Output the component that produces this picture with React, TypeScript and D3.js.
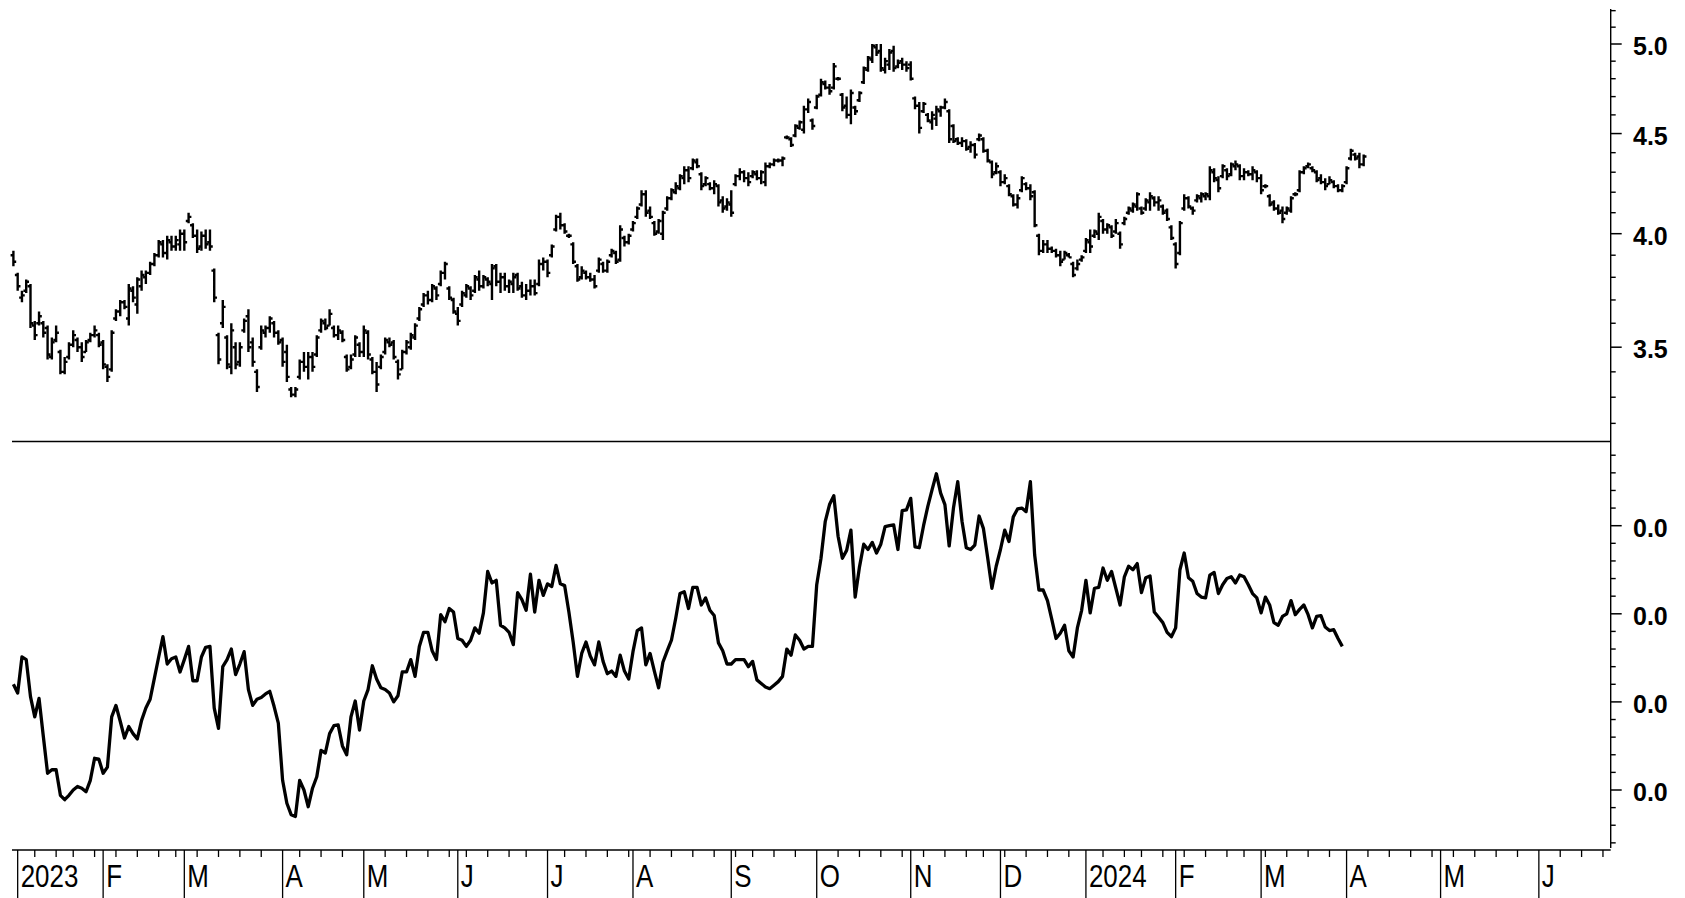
import React from 'react'
import * as d3 from 'd3'

// daily bars, Dec 30 2022 .. Apr 5 2024 (US trading days)
const firstDay = new Date(2022, 11, 30)
const axisEnd = new Date(2024, 5, 29)
const holidays = [
  '2023-01-02', '2023-01-16', '2023-02-20', '2023-04-07', '2023-05-29', '2023-06-19',
  '2023-07-04', '2023-09-04', '2023-11-23', '2023-12-25', '2024-01-01', '2024-01-15',
  '2024-02-19', '2024-03-29',
]

const opens = [
  3.90, 3.81, 3.71, 3.74, 3.76, 3.59, 3.60, 3.60, 3.58, 3.46,
  3.53, 3.48, 3.40, 3.46, 3.51, 3.53, 3.50, 3.48, 3.53, 3.55,
  3.55, 3.52, 3.42, 3.41, 3.62, 3.65, 3.69, 3.62, 3.74, 3.68,
  3.76, 3.80, 3.82, 3.86, 3.90, 3.95, 3.91, 3.96, 3.94, 3.95,
  4.00, 4.06, 4.04, 3.99, 3.94, 3.99, 3.96, 3.83, 3.55, 3.60,
  3.54, 3.42, 3.50, 3.44, 3.57, 3.63, 3.52, 3.40, 3.50, 3.56,
  3.58, 3.60, 3.56, 3.53, 3.48, 3.33, 3.31, 3.38, 3.44, 3.42,
  3.46, 3.47, 3.57, 3.60, 3.59, 3.58, 3.55, 3.56, 3.46, 3.42,
  3.47, 3.51, 3.48, 3.56, 3.45, 3.40, 3.42, 3.48, 3.52, 3.52,
  3.44, 3.41, 3.48, 3.50, 3.54, 3.62, 3.68, 3.72, 3.70, 3.75,
  3.77, 3.82, 3.75, 3.70, 3.64, 3.68, 3.72, 3.75, 3.74, 3.79,
  3.76, 3.79, 3.77, 3.85, 3.78, 3.80, 3.76, 3.77, 3.81, 3.76,
  3.72, 3.74, 3.76, 3.77, 3.86, 3.87, 3.90, 4.02, 4.08, 4.04,
  3.99, 3.95, 3.85, 3.80, 3.82, 3.80, 3.79, 3.83, 3.86, 3.83,
  3.90, 3.91, 3.88, 3.98, 3.96, 4.02, 4.08, 4.14, 4.19, 4.11,
  4.05, 4.01, 4.00, 4.12, 4.17, 4.20, 4.22, 4.27, 4.31, 4.32,
  4.35, 4.29, 4.24, 4.24, 4.22, 4.23, 4.16, 4.13, 4.14, 4.24,
  4.28, 4.30, 4.27, 4.28, 4.29, 4.27, 4.25, 4.33, 4.34, 4.36,
  4.36, 4.48, 4.47, 4.49, 4.53, 4.52, 4.63, 4.57, 4.64, 4.71,
  4.77, 4.75, 4.75, 4.80, 4.71, 4.65, 4.60, 4.64, 4.68, 4.78,
  4.85, 4.91, 4.98, 4.96, 4.85, 4.88, 4.96, 4.87, 4.90, 4.88,
  4.88, 4.69, 4.65, 4.62, 4.60, 4.56, 4.58, 4.62, 4.64, 4.62,
  4.54, 4.47, 4.45, 4.46, 4.43, 4.44, 4.47, 4.47, 4.41, 4.35,
  4.30, 4.30, 4.25, 4.23, 4.18, 4.14, 4.21, 4.24, 4.22, 4.20,
  3.99, 3.92, 3.95, 3.93, 3.92, 3.90, 3.88, 3.90, 3.86, 3.84,
  3.88, 3.92, 3.96, 3.99, 4.00, 4.06, 4.02, 4.03, 4.01, 4.00,
  4.05, 4.10, 4.11, 4.13, 4.12, 4.12, 4.15, 4.17, 4.15, 4.13,
  4.11, 4.03, 3.95, 3.91, 4.12, 4.17, 4.12, 4.16, 4.17, 4.18,
  4.18, 4.30, 4.26, 4.28, 4.31, 4.29, 4.33, 4.33, 4.28, 4.30,
  4.29, 4.30, 4.27, 4.23, 4.18, 4.15, 4.12, 4.11, 4.10, 4.11,
  4.19, 4.21, 4.30, 4.33, 4.32, 4.30, 4.27, 4.25, 4.24, 4.25,
  4.23, 4.21, 4.25, 4.37, 4.39, 4.38, 4.34,
]

const highs = [
  3.92, 3.82, 3.74, 3.79, 3.77, 3.61, 3.65, 3.61, 3.59, 3.54,
  3.59, 3.49, 3.46, 3.52, 3.57, 3.54, 3.52, 3.53, 3.56, 3.59,
  3.56, 3.53, 3.43, 3.57, 3.66, 3.70, 3.70, 3.77, 3.76, 3.80,
  3.83, 3.83, 3.87, 3.91, 3.97, 3.97, 3.99, 3.99, 3.99, 4.02,
  4.02, 4.10, 4.05, 4.02, 4.01, 4.02, 4.02, 3.84, 3.56, 3.70,
  3.55, 3.60, 3.52, 3.52, 3.62, 3.66, 3.54, 3.41, 3.59, 3.59,
  3.63, 3.61, 3.57, 3.54, 3.51, 3.34, 3.34, 3.45, 3.48, 3.48,
  3.48, 3.55, 3.62, 3.62, 3.66, 3.59, 3.59, 3.57, 3.47, 3.47,
  3.55, 3.52, 3.59, 3.57, 3.46, 3.44, 3.47, 3.54, 3.54, 3.53,
  3.45, 3.49, 3.53, 3.56, 3.60, 3.67, 3.73, 3.74, 3.77, 3.76,
  3.83, 3.87, 3.76, 3.71, 3.67, 3.74, 3.77, 3.76, 3.81, 3.83,
  3.81, 3.80, 3.86, 3.86, 3.82, 3.82, 3.79, 3.82, 3.82, 3.78,
  3.77, 3.79, 3.79, 3.88, 3.89, 3.88, 3.95, 4.09, 4.10, 4.05,
  4.00, 3.96, 3.86, 3.85, 3.83, 3.82, 3.81, 3.89, 3.87, 3.88,
  3.93, 3.92, 4.04, 3.99, 4.00, 4.06, 4.13, 4.21, 4.21, 4.13,
  4.06, 4.07, 4.11, 4.18, 4.22, 4.25, 4.29, 4.33, 4.33, 4.37,
  4.37, 4.30, 4.28, 4.25, 4.26, 4.24, 4.18, 4.17, 4.21, 4.29,
  4.32, 4.31, 4.30, 4.31, 4.31, 4.31, 4.35, 4.35, 4.37, 4.37,
  4.38, 4.49, 4.48, 4.55, 4.57, 4.65, 4.69, 4.58, 4.71, 4.80,
  4.79, 4.77, 4.89, 4.81, 4.72, 4.70, 4.74, 4.65, 4.73, 4.87,
  4.93, 5.00, 5.00, 5.00, 4.92, 4.97, 4.99, 4.91, 4.92, 4.90,
  4.90, 4.70, 4.67, 4.67, 4.61, 4.62, 4.65, 4.65, 4.69, 4.63,
  4.55, 4.48, 4.48, 4.47, 4.46, 4.45, 4.50, 4.48, 4.42, 4.36,
  4.35, 4.31, 4.29, 4.24, 4.19, 4.19, 4.28, 4.25, 4.24, 4.21,
  4.00, 3.97, 3.97, 3.94, 3.93, 3.92, 3.92, 3.91, 3.87, 3.88,
  3.90, 3.98, 4.02, 4.02, 4.10, 4.07, 4.05, 4.04, 4.07, 4.01,
  4.08, 4.13, 4.15, 4.20, 4.13, 4.17, 4.20, 4.18, 4.18, 4.14,
  4.12, 4.04, 3.96, 4.06, 4.19, 4.18, 4.13, 4.19, 4.20, 4.20,
  4.33, 4.32, 4.28, 4.34, 4.32, 4.35, 4.36, 4.34, 4.32, 4.31,
  4.33, 4.31, 4.29, 4.24, 4.19, 4.16, 4.14, 4.13, 4.13, 4.18,
  4.20, 4.31, 4.33, 4.35, 4.33, 4.31, 4.29, 4.27, 4.28, 4.26,
  4.24, 4.24, 4.33, 4.42, 4.40, 4.40, 4.39,
]

const lows = [
  3.85, 3.74, 3.69, 3.73, 3.58, 3.53, 3.59, 3.54, 3.45, 3.45,
  3.52, 3.39, 3.39, 3.45, 3.50, 3.48, 3.44, 3.48, 3.52, 3.54,
  3.50, 3.41, 3.36, 3.40, 3.61, 3.63, 3.66, 3.59, 3.69, 3.64,
  3.74, 3.77, 3.81, 3.85, 3.89, 3.89, 3.88, 3.92, 3.92, 3.92,
  3.92, 4.05, 3.98, 3.91, 3.92, 3.93, 3.92, 3.69, 3.43, 3.58,
  3.41, 3.39, 3.41, 3.42, 3.56, 3.48, 3.42, 3.32, 3.49, 3.54,
  3.56, 3.54, 3.51, 3.42, 3.36, 3.30, 3.30, 3.37, 3.40, 3.37,
  3.40, 3.46, 3.56, 3.57, 3.59, 3.54, 3.53, 3.52, 3.40, 3.41,
  3.46, 3.46, 3.46, 3.45, 3.39, 3.32, 3.41, 3.47, 3.50, 3.45,
  3.37, 3.41, 3.47, 3.49, 3.53, 3.61, 3.67, 3.68, 3.69, 3.70,
  3.76, 3.79, 3.70, 3.64, 3.59, 3.67, 3.71, 3.70, 3.73, 3.74,
  3.75, 3.76, 3.70, 3.76, 3.73, 3.74, 3.73, 3.73, 3.74, 3.71,
  3.70, 3.72, 3.72, 3.76, 3.83, 3.80, 3.89, 4.01, 4.02, 4.00,
  3.98, 3.86, 3.78, 3.79, 3.79, 3.78, 3.75, 3.82, 3.82, 3.82,
  3.89, 3.86, 3.87, 3.94, 3.95, 4.01, 4.07, 4.13, 4.08, 4.07,
  3.99, 4.00, 3.97, 4.11, 4.16, 4.19, 4.21, 4.24, 4.25, 4.31,
  4.32, 4.21, 4.23, 4.21, 4.19, 4.13, 4.10, 4.11, 4.08, 4.23,
  4.26, 4.25, 4.23, 4.27, 4.26, 4.24, 4.23, 4.32, 4.33, 4.35,
  4.33, 4.47, 4.43, 4.48, 4.52, 4.50, 4.61, 4.52, 4.63, 4.70,
  4.74, 4.71, 4.74, 4.79, 4.62, 4.58, 4.55, 4.60, 4.67, 4.77,
  4.84, 4.89, 4.93, 4.84, 4.83, 4.85, 4.84, 4.86, 4.85, 4.84,
  4.79, 4.63, 4.50, 4.61, 4.56, 4.52, 4.54, 4.59, 4.63, 4.45,
  4.45, 4.44, 4.43, 4.41, 4.40, 4.37, 4.46, 4.40, 4.35, 4.27,
  4.29, 4.23, 4.24, 4.18, 4.13, 4.12, 4.20, 4.21, 4.16, 4.03,
  3.90, 3.91, 3.91, 3.91, 3.89, 3.85, 3.88, 3.89, 3.80, 3.83,
  3.87, 3.91, 3.91, 3.98, 3.97, 4.00, 4.00, 3.98, 4.00, 3.93,
  4.04, 4.09, 4.10, 4.11, 4.09, 4.11, 4.11, 4.13, 4.11, 4.09,
  4.06, 3.97, 3.84, 3.90, 4.11, 4.12, 4.09, 4.15, 4.15, 4.16,
  4.16, 4.25, 4.20, 4.27, 4.26, 4.28, 4.31, 4.26, 4.26, 4.28,
  4.26, 4.25, 4.19, 4.22, 4.13, 4.11, 4.09, 4.05, 4.09, 4.10,
  4.18, 4.20, 4.29, 4.32, 4.30, 4.25, 4.24, 4.21, 4.24, 4.22,
  4.20, 4.20, 4.24, 4.36, 4.36, 4.32, 4.33,
]

const closes = [
  3.87, 3.76, 3.72, 3.78, 3.60, 3.55, 3.63, 3.56, 3.47, 3.52,
  3.56, 3.40, 3.44, 3.51, 3.55, 3.50, 3.46, 3.52, 3.55, 3.57,
  3.51, 3.43, 3.38, 3.56, 3.65, 3.69, 3.67, 3.75, 3.71, 3.79,
  3.81, 3.82, 3.86, 3.90, 3.96, 3.91, 3.97, 3.94, 3.97, 4.00,
  3.96, 4.08, 3.99, 3.93, 3.99, 3.95, 3.94, 3.71, 3.45, 3.67,
  3.43, 3.57, 3.43, 3.50, 3.61, 3.50, 3.44, 3.34, 3.57, 3.58,
  3.62, 3.56, 3.52, 3.44, 3.38, 3.31, 3.33, 3.44, 3.42, 3.46,
  3.42, 3.54, 3.61, 3.58, 3.64, 3.55, 3.57, 3.53, 3.41, 3.45,
  3.54, 3.48, 3.57, 3.47, 3.40, 3.35, 3.46, 3.53, 3.51, 3.46,
  3.39, 3.48, 3.52, 3.55, 3.59, 3.66, 3.72, 3.70, 3.76, 3.72,
  3.82, 3.86, 3.71, 3.65, 3.61, 3.73, 3.76, 3.72, 3.80, 3.76,
  3.80, 3.78, 3.84, 3.78, 3.80, 3.76, 3.78, 3.80, 3.75, 3.72,
  3.74, 3.76, 3.73, 3.86, 3.87, 3.82, 3.94, 4.08, 4.04, 4.01,
  3.99, 3.87, 3.79, 3.83, 3.80, 3.79, 3.76, 3.88, 3.83, 3.87,
  3.92, 3.87, 4.02, 3.96, 3.99, 4.05, 4.12, 4.19, 4.10, 4.08,
  4.00, 4.06, 4.10, 4.17, 4.21, 4.23, 4.28, 4.31, 4.27, 4.36,
  4.33, 4.23, 4.27, 4.22, 4.24, 4.15, 4.12, 4.15, 4.10, 4.28,
  4.30, 4.27, 4.25, 4.30, 4.27, 4.30, 4.33, 4.34, 4.36, 4.36,
  4.37, 4.48, 4.44, 4.54, 4.56, 4.63, 4.67, 4.54, 4.70, 4.78,
  4.75, 4.73, 4.87, 4.80, 4.64, 4.60, 4.72, 4.62, 4.72, 4.86,
  4.92, 4.99, 4.95, 4.86, 4.90, 4.95, 4.86, 4.89, 4.88, 4.86,
  4.80, 4.65, 4.53, 4.66, 4.57, 4.60, 4.63, 4.64, 4.67, 4.47,
  4.46, 4.45, 4.46, 4.42, 4.44, 4.39, 4.49, 4.41, 4.36, 4.29,
  4.33, 4.25, 4.27, 4.19, 4.14, 4.17, 4.27, 4.22, 4.18, 4.04,
  3.92, 3.95, 3.93, 3.92, 3.90, 3.87, 3.91, 3.89, 3.81, 3.86,
  3.89, 3.97, 3.94, 4.01, 4.08, 4.02, 4.04, 3.99, 4.05, 3.95,
  4.07, 4.12, 4.14, 4.19, 4.10, 4.16, 4.18, 4.15, 4.16, 4.10,
  4.07, 3.98, 3.86, 4.05, 4.17, 4.13, 4.11, 4.18, 4.19, 4.19,
  4.31, 4.27, 4.22, 4.33, 4.28, 4.34, 4.34, 4.28, 4.30, 4.29,
  4.31, 4.27, 4.21, 4.23, 4.14, 4.12, 4.10, 4.07, 4.12, 4.17,
  4.19, 4.30, 4.32, 4.34, 4.31, 4.26, 4.25, 4.23, 4.26, 4.23,
  4.21, 4.23, 4.32, 4.41, 4.37, 4.34, 4.38,
]

// lower panel study, ends Mar 28 2024
const study = [
  0.0220, 0.0210, 0.0251, 0.0248, 0.0206, 0.0183, 0.0204, 0.0161, 0.0119, 0.0123,
  0.0123, 0.0094, 0.0089, 0.0094, 0.0100, 0.0104, 0.0102, 0.0098, 0.0111, 0.0136,
  0.0135, 0.0119, 0.0126, 0.0183, 0.0196, 0.0178, 0.0159, 0.0172, 0.0164, 0.0158,
  0.0179, 0.0193, 0.0203, 0.0227, 0.0251, 0.0274, 0.0243, 0.0249, 0.0251, 0.0234,
  0.0248, 0.0263, 0.0224, 0.0224, 0.0251, 0.0262, 0.0263, 0.0193, 0.0170, 0.0240,
  0.0248, 0.0260, 0.0231, 0.0243, 0.0257, 0.0214, 0.0196, 0.0203, 0.0205, 0.0209,
  0.0212, 0.0195, 0.0176, 0.0111, 0.0085, 0.0072, 0.0070, 0.0111, 0.0100, 0.0081,
  0.0102, 0.0115, 0.0145, 0.0142, 0.0164, 0.0173, 0.0174, 0.0150, 0.0140, 0.0183,
  0.0201, 0.0168, 0.0201, 0.0214, 0.0241, 0.0226, 0.0216, 0.0214, 0.0210, 0.0200,
  0.0207, 0.0234, 0.0234, 0.0248, 0.0229, 0.0263, 0.0279, 0.0279, 0.0258, 0.0248,
  0.0299, 0.0291, 0.0306, 0.0302, 0.0272, 0.0270, 0.0263, 0.0270, 0.0284, 0.0278,
  0.0301, 0.0348, 0.0335, 0.0338, 0.0287, 0.0284, 0.0279, 0.0265, 0.0324, 0.0316,
  0.0304, 0.0345, 0.0302, 0.0338, 0.0321, 0.0334, 0.0331, 0.0355, 0.0334, 0.0332,
  0.0302, 0.0268, 0.0229, 0.0255, 0.0268, 0.0252, 0.0242, 0.0268, 0.0246, 0.0232,
  0.0235, 0.0229, 0.0253, 0.0235, 0.0226, 0.0257, 0.0281, 0.0284, 0.0242, 0.0255,
  0.0235, 0.0216, 0.0245, 0.0258, 0.0270, 0.0295, 0.0323, 0.0325, 0.0306, 0.0330,
  0.0330, 0.0310, 0.0318, 0.0304, 0.0298, 0.0267, 0.0258, 0.0243, 0.0243, 0.0248,
  0.0248, 0.0248, 0.0240, 0.0246, 0.0225, 0.0221, 0.0217, 0.0215, 0.0219, 0.0223,
  0.0229, 0.0260, 0.0253, 0.0276, 0.0270, 0.0260, 0.0263, 0.0263, 0.0333, 0.0363,
  0.0405, 0.0424, 0.0434, 0.0388, 0.0363, 0.0372, 0.0395, 0.0319, 0.0353, 0.0379,
  0.0373, 0.0381, 0.0369, 0.0379, 0.0399, 0.0400, 0.0401, 0.0373, 0.0417, 0.0418,
  0.0431, 0.0376, 0.0375, 0.0400, 0.0422, 0.0441, 0.0459, 0.0437, 0.0424, 0.0377,
  0.0420, 0.0450, 0.0405, 0.0375, 0.0373, 0.0378, 0.0411, 0.0397, 0.0364, 0.0329,
  0.0354, 0.0373, 0.0395, 0.0382, 0.0410, 0.0419, 0.0420, 0.0416, 0.0450, 0.0367,
  0.0327, 0.0327, 0.0315, 0.0294, 0.0272, 0.0278, 0.0287, 0.0258, 0.0251, 0.0284,
  0.0304, 0.0338, 0.0301, 0.0329, 0.0330, 0.0352, 0.0338, 0.0348, 0.0329, 0.0310,
  0.0342, 0.0354, 0.0350, 0.0357, 0.0324, 0.0341, 0.0343, 0.0302, 0.0296, 0.0290,
  0.0279, 0.0274, 0.0284, 0.0350, 0.0369, 0.0341, 0.0337, 0.0323, 0.0319, 0.0318,
  0.0344, 0.0347, 0.0323, 0.0333, 0.0340, 0.0342, 0.0335, 0.0344, 0.0342, 0.0333,
  0.0323, 0.0318, 0.0301, 0.0319, 0.0310, 0.0290, 0.0287, 0.0297, 0.0300, 0.0315,
  0.0299, 0.0305, 0.0310, 0.0299, 0.0284, 0.0297, 0.0298, 0.0285, 0.0281, 0.0282,
  0.0272, 0.0263,
]

const priceMajor = [3.5, 4.0, 4.5, 5.0]
const studyMajor = [0.01, 0.02, 0.03, 0.04]

const W = 1685
const H = 898
const left = 12
const axisX = 1610.7
const firstX = 13.4
const step = 4.273
const sepY = 441.5
const axisY = 850
const labelFont = "'Liberation Sans', Arial, sans-serif"

const dayKey = d3.timeFormat('%Y-%m-%d')

function tradingDays() {
  return d3.timeDay.range(firstDay, axisEnd).filter(d => {
    const wd = d.getDay()
    return wd !== 0 && wd !== 6 && !holidays.includes(dayKey(d))
  })
}

export default function App() {
  const days = tradingDays()
  const x = d3.scaleLinear()
    .domain([0, days.length - 1])
    .range([firstX, firstX + (days.length - 1) * step])

  const yPrice = d3.scaleLog().domain([3.1325, 5.2]).range([sepY, 10.66])
  const yStudy = d3.scaleLinear().domain([0.01, 0.04]).range([790, 525.7])

  // bars: high-low stem, open tick left, close tick right
  let bars = ''
  closes.forEach((c, i) => {
    const xi = x(i)
    bars += `M${xi},${yPrice(highs[i])}V${yPrice(lows[i])}`
    bars += `M${xi - 2.8},${yPrice(opens[i])}H${xi}`
    bars += `M${xi},${yPrice(c)}H${xi + 2.8}`
  })

  const studyLine = d3.line<number>()
    .x((_, i) => x(i))
    .y(v => yStudy(v))(study)

  const priceMinor = d3.range(32, 53).map(v => v / 10)
    .filter(v => !priceMajor.some(m => Math.abs(m - v) < 1e-9))
  const studyMinor = d3.range(2, 50, 2).map(v => v / 1000)
    .filter(v => !studyMajor.some(m => Math.abs(m - v) < 1e-9))
    .filter(v => yStudy(v) <= 848 && yStudy(v) >= sepY + 5)

  const fmt = d3.format('.1f')
  const monthName = d3.timeFormat('%b')

  const months: { i: number; label: string }[] = []
  const weeks: number[] = []
  days.forEach((d, i) => {
    if (i === 0) return
    const prev = days[i - 1]
    if (d.getMonth() !== prev.getMonth()) {
      months.push({ i, label: d.getMonth() === 0 ? String(d.getFullYear()) : monthName(d)[0] })
    } else if (+d3.timeMonday.floor(d) !== +d3.timeMonday.floor(prev)) {
      weeks.push(i)
    }
  })

  return (
    <svg width={W} height={H} style={{ position: 'absolute', left: 0, top: 0, background: '#fff' }}>
      <path d={bars} fill="none" stroke="#000" strokeWidth={2.4} />
      <path d={studyLine ?? ''} fill="none" stroke="#000" strokeWidth={3.3} strokeLinejoin="round" />

      <line x1={left} x2={axisX} y1={sepY} y2={sepY} stroke="#000" strokeWidth={1.3} />

      {/* right axis */}
      <line x1={axisX} x2={axisX} y1={9} y2={848} stroke="#000" strokeWidth={1.4} />
      {priceMinor.map(v => (
        <line key={'pm' + v} x1={axisX} x2={axisX + 5} y1={yPrice(v)} y2={yPrice(v)} stroke="#000" strokeWidth={1.4} />
      ))}
      {priceMajor.map(v => (
        <g key={'pM' + v}>
          <line x1={axisX} x2={axisX + 11} y1={yPrice(v)} y2={yPrice(v)} stroke="#000" strokeWidth={1.5} />
          <text x={1633} y={yPrice(v) + 11} fontFamily={labelFont} fontWeight="bold" fontSize={25} fill="#000">
            {fmt(v)}
          </text>
        </g>
      ))}
      {studyMinor.map(v => (
        <line key={'sm' + v} x1={axisX} x2={axisX + 5} y1={yStudy(v)} y2={yStudy(v)} stroke="#000" strokeWidth={1.4} />
      ))}
      {studyMajor.map(v => (
        <g key={'sM' + v}>
          <line x1={axisX} x2={axisX + 11} y1={yStudy(v)} y2={yStudy(v)} stroke="#000" strokeWidth={1.5} />
          <text x={1633} y={yStudy(v) + 11} fontFamily={labelFont} fontWeight="bold" fontSize={25} fill="#000">
            {fmt(v)}
          </text>
        </g>
      ))}

      {/* time axis */}
      <line x1={left} x2={axisX} y1={axisY} y2={axisY} stroke="#000" strokeWidth={1.3} />
      {weeks.filter(i => x(i) < axisX).map(i => (
        <line key={'w' + i} x1={x(i)} x2={x(i)} y1={axisY} y2={axisY + 7} stroke="#000" strokeWidth={1.3} />
      ))}
      {months.filter(m => x(m.i) < axisX).map(m => (
        <g key={'m' + m.i}>
          <line x1={x(m.i)} x2={x(m.i)} y1={axisY} y2={H} stroke="#000" strokeWidth={1.3} />
          <text
            transform={`translate(${x(m.i) + 3},887) scale(0.81,1)`}
            fontFamily={labelFont}
            fontSize={32}
            fill="#000"
          >
            {m.label}
          </text>
        </g>
      ))}
    </svg>
  )
}
